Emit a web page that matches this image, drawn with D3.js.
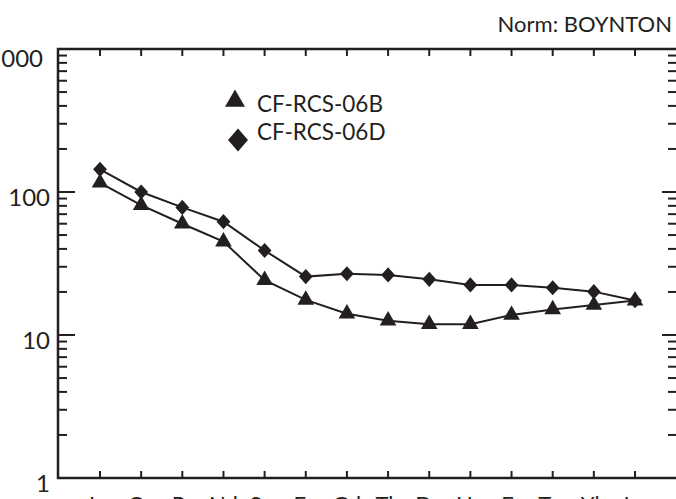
<!DOCTYPE html>
<html><head><meta charset="utf-8">
<script src="https://cdn.jsdelivr.net/npm/d3@7"></script>
<style>html,body{margin:0;padding:0;background:#fff;overflow:hidden}</style>
</head><body>
<script>
const elements = ["La","Ce","Pr","Nd","Sm","Eu","Gd","Tb","Dy","Ho","Er","Tm","Yb","Lu"];
const sampleB = [116, 81, 60, 45, 24.2, 17.6, 14.1, 12.6, 11.9, 11.9, 13.8, 15.1, 16.2, 17.4];
const sampleD = [144, 100, 78, 62, 39, 25.6, 26.8, 26.3, 24.5, 22.4, 22.4, 21.4, 20.1, 17.4];
const seriesNames = ["CF-RCS-06B", "CF-RCS-06D"];
const yTickValues = [1, 10, 100, 1000];
const normLabel = "Norm: BOYNTON";

(function () {
const W = 676, H = 499;
const ink = "#231f20";
const font = "Lato, 'Open Sans', sans-serif";
const svg = d3.select("body").append("svg").attr("width", W).attr("height", H);

const pl = 58, pr = 678, pt = 49, pb = 478;
const x = d3.scalePoint().domain(elements).range([100, 635]);
const y = d3.scaleLog().domain([1, 1000]).range([pb, pt]);

const minor = [];
for (let d = 1; d < 1000; d *= 10) for (let k = 2; k <= 9; k++) minor.push(d * k);

const g = svg.append("g");
g.selectAll(".lminor").data(minor).enter().append("line")
  .attr("x1", pl).attr("x2", pl + 9).attr("y1", d => y(d)).attr("y2", d => y(d))
  .attr("stroke", ink).attr("stroke-width", 2);
g.selectAll(".lmajor").data(yTickValues).enter().append("line")
  .attr("x1", pl).attr("x2", pl + 17).attr("y1", d => y(d)).attr("y2", d => y(d))
  .attr("stroke", ink).attr("stroke-width", 2);
g.selectAll(".rminor").data(minor).enter().append("line")
  .attr("x1", pr).attr("x2", pr - 10).attr("y1", d => y(d)).attr("y2", d => y(d))
  .attr("stroke", ink).attr("stroke-width", 2);
g.selectAll(".rmajor").data(yTickValues).enter().append("line")
  .attr("x1", pr).attr("x2", pr - 16).attr("y1", d => y(d)).attr("y2", d => y(d))
  .attr("stroke", ink).attr("stroke-width", 2);
g.selectAll(".tt").data(elements).enter().append("line")
  .attr("x1", d => x(d)).attr("x2", d => x(d)).attr("y1", pt).attr("y2", pt + 7)
  .attr("stroke", ink).attr("stroke-width", 2);
g.selectAll(".bt").data(elements).enter().append("line")
  .attr("x1", d => x(d)).attr("x2", d => x(d)).attr("y1", pb).attr("y2", pb - 7)
  .attr("stroke", ink).attr("stroke-width", 2);
g.append("rect").attr("x", pl).attr("y", pt).attr("width", pr - pl).attr("height", pb - pt)
  .attr("fill", "none").attr("stroke", ink).attr("stroke-width", 2.5);

g.selectAll(".yl").data(yTickValues).enter().append("text")
  .attr("x", d => d === 1000 ? 43 : 50)
  .attr("y", d => d === 1000 ? 67 : y(d) + 14)
  .attr("text-anchor", "end").attr("font-family", font).attr("font-size", 24).attr("fill", ink)
  .text(d => d);
g.selectAll(".xl").data(elements).enter().append("text")
  .attr("x", d => x(d)).attr("y", 512)
  .attr("text-anchor", "middle").attr("font-family", font).attr("font-size", 22).attr("fill", ink)
  .text(d => d);
svg.append("text").attr("x", 672).attr("y", 32).attr("text-anchor", "end")
  .attr("font-family", font).attr("font-size", 22).attr("fill", ink).text(normLabel);

const line = d3.line().x((d, i) => x(elements[i])).y(d => y(d));
svg.append("path").datum(sampleB).attr("d", line).attr("fill", "none").attr("stroke", ink).attr("stroke-width", 2);
svg.append("path").datum(sampleD).attr("d", line).attr("fill", "none").attr("stroke", ink).attr("stroke-width", 2);

const tri = d3.symbol().type(d3.symbolTriangle).size(120);
const dia = d3.symbol().type(d3.symbolSquare).size(95);
svg.selectAll(".mb").data(sampleB).enter().append("path")
  .attr("d", tri).attr("transform", (d, i) => `translate(${x(elements[i])},${y(d)})`)
  .attr("fill", ink);
svg.selectAll(".md").data(sampleD).enter().append("path")
  .attr("d", dia).attr("transform", (d, i) => `translate(${x(elements[i])},${y(d)}) scale(1,1.1) rotate(45)`)
  .attr("fill", ink);

const lg = svg.append("g");
lg.append("path").attr("d", d3.symbol().type(d3.symbolTriangle).size(173)).attr("transform", "translate(235,101)").attr("fill", ink);
lg.append("path").attr("d", d3.symbol().type(d3.symbolSquare).size(200)).attr("transform", "translate(238,140) scale(1,1.15) rotate(45)").attr("fill", ink);
lg.append("text").attr("x", 257).attr("y", 112).attr("font-family", font).attr("font-size", 22.5).attr("fill", ink).text(seriesNames[0]);
lg.append("text").attr("x", 257).attr("y", 140).attr("font-family", font).attr("font-size", 22.5).attr("fill", ink).text(seriesNames[1]);
})();
</script>
</body></html>
